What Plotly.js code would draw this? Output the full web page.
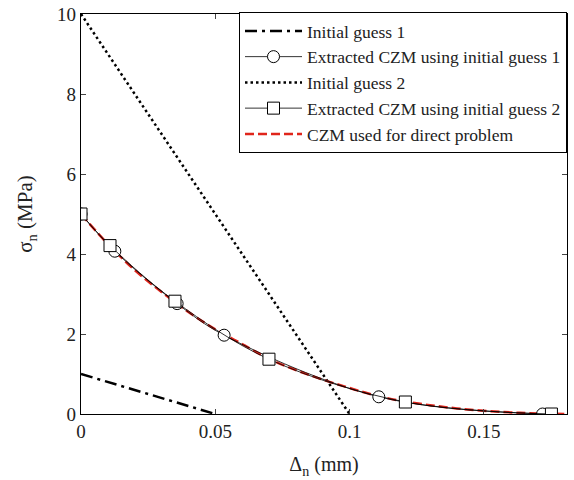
<!DOCTYPE html>
<html><head><meta charset="utf-8">
<script src="https://cdn.plot.ly/plotly-3.0.1.min.js"></script>
<style>html,body{margin:0;padding:0;background:#fff}#chart{width:574px;height:480px}</style>
</head><body><div id="chart"></div>
<script>
const guess1X = [0, 0.05];
const guess1Y = [1, 0];
const guess2X = [0, 0.1];
const guess2Y = [10, 0];
const ext1X = [0, 0.0126, 0.0358, 0.0533, 0.1109, 0.1719];
const ext1Y = [5, 4.07, 2.76, 1.97, 0.43, 0.0];
const ext2X = [0, 0.0108, 0.035, 0.070, 0.1208, 0.1752];
const ext2Y = [5, 4.21, 2.82, 1.37, 0.30, 0.0];
const czmX = [0, 0.01, 0.02, 0.03, 0.04, 0.05, 0.06, 0.07, 0.08, 0.09, 0.10, 0.11, 0.12, 0.13, 0.14, 0.15, 0.16, 0.17, 0.181];
const czmY = [5, 4.25, 3.6, 3.05, 2.55, 2.12, 1.75, 1.38, 1.1, 0.86, 0.65, 0.46, 0.32, 0.22, 0.14, 0.08, 0.04, 0.015, 0.0];
const xTicks = [0, 0.05, 0.1, 0.15];
const xTickText = ['0', '0.05', '0.1', '0.15'];
const yTicks = [0, 2, 4, 6, 8, 10];

const F = 'Times New Roman';
const traces = [
  {x: guess1X, y: guess1Y, mode: 'lines', name: 'Initial guess 1', legendrank: 1,
   line: {color: '#000', width: 2.5, dash: '12px,5px,3px,5px'}},
  {x: guess2X, y: guess2Y, mode: 'lines', name: 'Initial guess 2', legendrank: 3,
   line: {color: '#000', width: 2.5, dash: '2.5px,3px'}},
  {x: czmX, y: czmY, mode: 'lines', name: 'CZM used for direct problem', legendrank: 5,
   line: {color: '#e0251b', width: 2.5, dash: '9px,4px', shape: 'spline'}},
  {x: ext1X, y: ext1Y, mode: 'lines+markers', name: 'Extracted CZM using initial guess 1', legendrank: 2,
   line: {color: '#000', width: 0.8, shape: 'spline'},
   marker: {symbol: 'circle', size: 12, color: '#fff', line: {color: '#000', width: 1}}},
  {x: ext2X, y: ext2Y, mode: 'lines+markers', name: 'Extracted CZM using initial guess 2', legendrank: 4,
   line: {color: '#000', width: 0.8, shape: 'spline'},
   marker: {symbol: 'square', size: 12, color: '#fff', line: {color: '#000', width: 1}}}
];
const layout = {
  width: 574, height: 480,
  margin: {l: 81, r: 7, t: 14, b: 66},
  paper_bgcolor: '#fff', plot_bgcolor: '#fff',
  font: {family: F, size: 17, color: '#222'},
  showlegend: true,
  legend: {x: 1, xanchor: 'right', y: 1.005, yanchor: 'top', bgcolor: '#fff',
    bordercolor: '#000', borderwidth: 1, font: {family: F, size: 17.5, color: '#222'},
    tracegroupgap: 0, itemwidth: 57},
  xaxis: {range: [0, 0.181], tickvals: xTicks, ticktext: xTickText, ticks: 'inside', ticklen: 5,
    showgrid: false, zeroline: false, showline: true, linecolor: '#000', linewidth: 1.2, mirror: 'ticks',
    title: {text: 'Δ<sub>n</sub> (mm)', font: {family: F, size: 20, color: '#222'}, standoff: 16},
    tickfont: {family: F, size: 19, color: '#222'}},
  yaxis: {range: [0, 10], tickvals: yTicks, ticks: 'inside', ticklen: 5,
    showgrid: false, zeroline: false, showline: true, linecolor: '#000', linewidth: 1.2, mirror: 'ticks',
    title: {text: 'σ<sub>n</sub> (MPa)', font: {family: F, size: 21, color: '#222'}, standoff: 18},
    tickfont: {family: F, size: 19, color: '#222'}}
};
Plotly.newPlot('chart', traces, layout, {displayModeBar: false});
</script></body></html>
